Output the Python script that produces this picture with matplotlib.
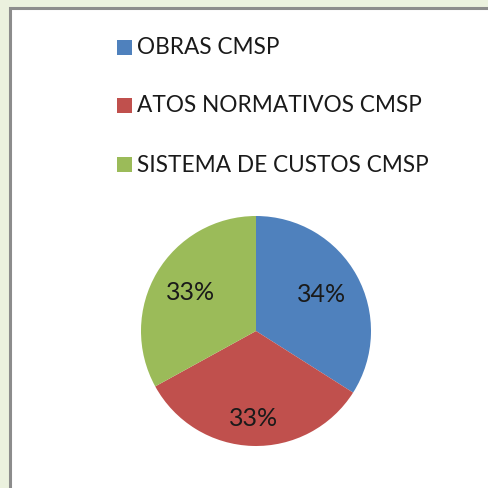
import matplotlib.pyplot as plt
from matplotlib.patches import Rectangle

categories = ['OBRAS CMSP', 'ATOS NORMATIVOS CMSP', 'SISTEMA DE CUSTOS CMSP']
values = [34, 33, 33]
colors = ['#4F81BD', '#C0504D', '#9BBB59']

W, H = 489, 488
fig = plt.figure(figsize=(W / 100, H / 100), dpi=100)
fig.patch.set_facecolor('#EBF1DE')

# white chart area with grey frame (runs off right/bottom edge)
fig.patches.append(Rectangle((10 / W, -0.05), 1.0, 1 - 8 / H + 0.05,
                             transform=fig.transFigure, facecolor='white',
                             edgecolor='#8C8C8C', linewidth=2.2, zorder=-1))

# pie, center (256, 331), radius ~115 px
r = 115
ax = fig.add_axes([(256 - r) / W, (H - 331 - r) / H, 2 * r / W, 2 * r / H])
ax.set_zorder(2)
ax.patch.set_alpha(0)
wedges, texts, autotexts = ax.pie(values, colors=colors, startangle=90, counterclock=False,
                                  autopct='%1.0f%%', pctdistance=1.0)
# excel-like label distances per slice
for t, d in zip(autotexts, [0.65, 0.76, 0.66]):
    x, y = t.get_position()
    t.set_position((x * d, y * d))
    t.set_fontsize(18)
    t.set_family('Lato')
    t.set_color('#1a1a1a')
ax.set_aspect('equal')
ax.set_xlim(-1, 1)
ax.set_ylim(-1, 1)

# legend rows
rows_y = [48, 106, 165]
for cat, col, y in zip(categories, colors, rows_y):
    fig.patches.append(Rectangle((117 / W, (H - y - 7) / H), 15 / W, 15 / H,
                                 transform=fig.transFigure, facecolor=col,
                                 edgecolor='none', zorder=1))
    fig.text(137 / W, (H - y) / H, cat, fontsize=16.3, family='Lato',
             color='#1a1a1a', va='center', ha='left', zorder=3)

fig.savefig('out.png', dpi=100, facecolor=fig.get_facecolor())
